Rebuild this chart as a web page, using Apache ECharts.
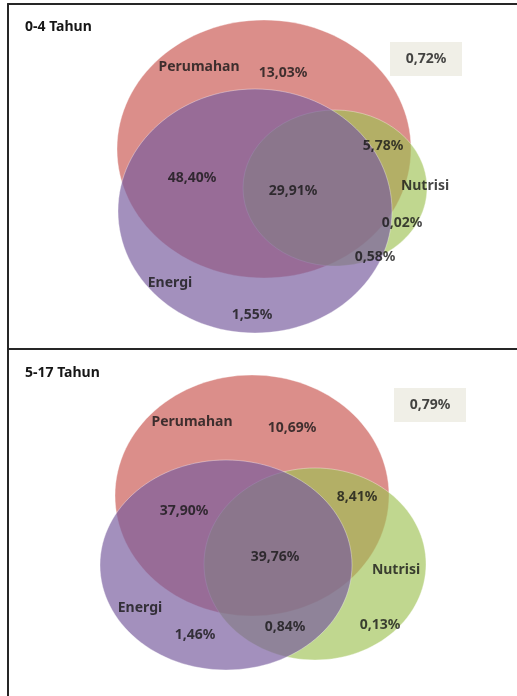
<!DOCTYPE html>
<html>
<head>
<meta charset="utf-8">
<script src="https://cdn.jsdelivr.net/npm/echarts@6/dist/echarts.min.js"></script>
<style>
  html, body { margin: 0; padding: 0; background: #ffffff; }
  #chart { width: 517px; height: 696px; }
</style>
</head>
<body>
<div id="chart"></div>
<script>
// Age groups shown, one panel each
const panelTitles = ['0-4 Tahun', '5-17 Tahun'];

// Deprivation dimensions (drawing order: Perumahan, Nutrisi, Energi)
const setNames = ['Perumahan', 'Nutrisi', 'Energi'];

// Venn regions and their share of children (%)
const regionNames = [
  'Perumahan saja',
  'Perumahan & Energi',
  'Perumahan & Energi & Nutrisi',
  'Perumahan & Nutrisi',
  'Nutrisi saja',
  'Energi & Nutrisi',
  'Energi saja',
  'Tidak ada'
];
const share0to4 = [13.03, 48.40, 29.91, 5.78, 0.02, 0.58, 1.55, 0.72];
const share5to17 = [10.69, 37.90, 39.76, 8.41, 0.13, 0.84, 1.46, 0.79];

// ---- layout (panel units = pixels inside each panel) ----
const layout = [
  {
    ellipses: [[256, 145, 147, 129], [327, 184, 92, 78], [247, 207, 137, 122]],
    setLabelPos: [[191, 63], [417, 182], [162, 279]],
    regionLabelPos: [[275, 69], [184, 174], [285, 187], [375, 142], [394, 219], [367, 253], [244, 311], [418, 55]]
  },
  {
    ellipses: [[244, 146.5, 137, 120.5], [307, 215, 111, 96], [218, 216, 126, 105]],
    setLabelPos: [[184, 73], [388, 221], [132, 259]],
    regionLabelPos: [[284, 79], [176, 162], [267, 208], [349, 148], [372, 276], [277, 278], [187, 286], [422, 56]]
  }
];
const panelBoxes = [
  { left: 8, top: 4, width: 509, height: 345 },
  { left: 8, top: 349, width: 509, height: 347 }
];

const setColors = ['rgba(202,88,82,0.68)', 'rgba(158,194,83,0.65)', 'rgba(119,92,158,0.68)'];
const font = '"Noto Sans", "Open Sans", sans-serif';
const textColor = '#161616';

function pct(v) {
  return v.toFixed(2).replace('.', ',') + '%';
}

const grids = [], xAxes = [], yAxes = [], series = [], titles = [];
const shares = [share0to4, share5to17];

panelBoxes.forEach((box, p) => {
  grids.push({ left: box.left, top: box.top, width: box.width, height: box.height, containLabel: false });
  xAxes.push({
    gridIndex: p, type: 'value', min: 0, max: box.width, position: 'top',
    axisLine: { show: true, onZero: false, lineStyle: { color: '#262626', width: 2 } },
    axisTick: { show: false }, axisLabel: { show: false }, splitLine: { show: false }
  });
  yAxes.push({
    gridIndex: p, type: 'value', min: 0, max: box.height, inverse: true, position: 'left',
    axisLine: { show: true, onZero: false, lineStyle: { color: '#262626', width: 2 } },
    axisTick: { show: false }, axisLabel: { show: false }, splitLine: { show: false }
  });

  titles.push({
    text: panelTitles[p],
    left: 20, top: box.top + (p === 0 ? 11 : 12),
    textStyle: { fontFamily: font, fontSize: 14, fontWeight: 'bold', color: textColor }
  });

  // the three sets as ellipses
  series.push({
    type: 'custom',
    xAxisIndex: p, yAxisIndex: p,
    silent: true,
    data: layout[p].ellipses.map((e, i) => ({ name: setNames[i], value: e })),
    encode: { x: 0, y: 1 },
    renderItem: function (params, api) {
      const c = api.coord([api.value(0), api.value(1)]);
      const s = api.size([api.value(2), api.value(3)]);
      return {
        type: 'ellipse',
        shape: { cx: c[0], cy: c[1], rx: s[0], ry: s[1] },
        style: {
          fill: setColors[params.dataIndex],
          stroke: 'rgba(255,255,255,0.35)',
          lineWidth: 1
        }
      };
    }
  });

  // "outside all sets" box
  const last = shares[p].length - 1;
  series.push({
    type: 'scatter',
    xAxisIndex: p, yAxisIndex: p,
    silent: true,
    symbol: 'rect',
    symbolSize: [72, 34],
    itemStyle: { color: '#ecebe1' },
    label: {
      show: true, position: 'inside',
      formatter: (d) => pct(d.value[2]),
      fontFamily: font, fontSize: 14, fontWeight: 'bold', color: textColor
    },
    data: [{ name: regionNames[last], value: [layout[p].regionLabelPos[last][0], layout[p].regionLabelPos[last][1], shares[p][last]] }]
  });

  // region shares
  series.push({
    type: 'scatter',
    xAxisIndex: p, yAxisIndex: p,
    silent: true,
    symbolSize: 1,
    itemStyle: { color: 'rgba(0,0,0,0)' },
    label: {
      show: true, position: 'inside',
      formatter: (d) => pct(d.value[2]),
      fontFamily: font, fontSize: 14, fontWeight: 'bold', color: textColor
    },
    data: shares[p].slice(0, last).map((v, i) => ({
      name: regionNames[i],
      value: [layout[p].regionLabelPos[i][0], layout[p].regionLabelPos[i][1], v]
    }))
  });

  // set names
  series.push({
    type: 'scatter',
    xAxisIndex: p, yAxisIndex: p,
    silent: true,
    symbolSize: 1,
    itemStyle: { color: 'rgba(0,0,0,0)' },
    label: {
      show: true, position: 'inside',
      formatter: (d) => d.name,
      fontFamily: font, fontSize: 14, fontWeight: 'bold', color: textColor
    },
    data: setNames.map((n, i) => ({ name: n, value: layout[p].setLabelPos[i] }))
  });
});

const chart = echarts.init(document.getElementById('chart'), null, { renderer: 'canvas' });
chart.setOption({
  animation: false,
  backgroundColor: '#ffffff',
  title: titles,
  grid: grids,
  xAxis: xAxes,
  yAxis: yAxes,
  series: series
});
</script>
</body>
</html>
